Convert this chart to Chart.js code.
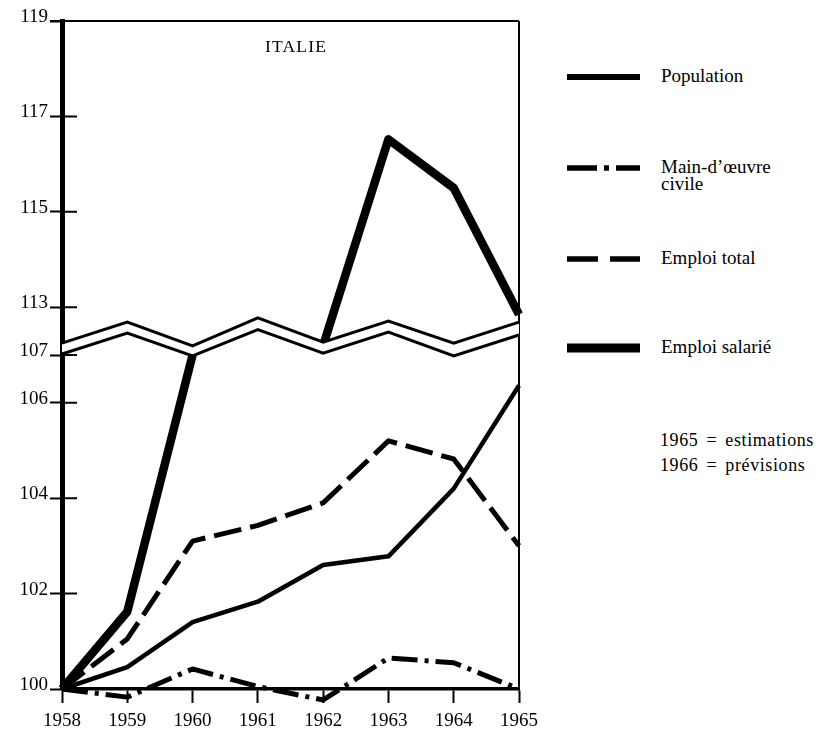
<!DOCTYPE html>
<html>
<head>
<meta charset="utf-8">
<script src="https://cdn.jsdelivr.net/npm/chart.js@4/dist/chart.umd.min.js"></script>
<style>
  body { margin: 0; background: #fff; overflow: hidden; }
  #page { position: relative; width: 826px; height: 734px; font-family: "Liberation Serif", "DejaVu Serif", serif; color: #000; }
  #plot { position: absolute; left: 0; top: 0; width: 545px; height: 734px; }
  #title { position: absolute; left: 236px; top: 36px; width: 120px; text-align: center; font-size: 17.5px; line-height: 20px; letter-spacing: 1.2px; }
  .item { position: absolute; left: 0; width: 826px; }
  .item svg { position: absolute; left: 567px; }
  .item span { position: absolute; left: 661px; font-size: 19px; line-height: 17px; white-space: pre; }
  #notes { position: absolute; left: 660px; top: 428px; font-size: 18px; line-height: 25px; letter-spacing: 0.6px; word-spacing: 3px; white-space: pre; }
</style>
</head>
<body>
<div id="page">
  <div id="plot"><canvas id="chart"></canvas></div>
  <div id="title">ITALIE</div>
  <div id="legend"></div>
  <div id="notes">1965 = estimations
1966 = prévisions</div>
</div>
<script>
// indices, 1958 = 100
const years = ["1958", "1959", "1960", "1961", "1962", "1963", "1964", "1965"];
const population = [100, 100.46, 101.4, 101.83, 102.6, 102.78, 104.2, 106.36];
const mainOeuvreCivile = [100, 99.83, 100.42, 100.05, 99.77, 100.65, 100.55, 100.0];
const emploiTotal = [100, 101.05, 103.1, 103.43, 103.9, 105.2, 104.82, 103.0];
const emploiSalarie = [100, 101.62, 107.0, null, 112.2, 116.52, 115.5, 112.85];
const seriesNames = ["Population", "Main-d’œuvre\ncivile", "Emploi total", "Emploi salarié"];
const yTicks = [100, 102, 104, 106, 107, 113, 115, 117, 119];
// zigzag of the axis break (the gap 107 -> 113)
const breakUpper = [107.25, 107.69, 107.19, 107.78, 107.27, 107.71, 107.25, 107.69];
const breakLower = [107.02, 107.46, 106.98, 107.53, 107.04, 107.48, 106.98, 107.42];

// the axis skips 108..112, so values above the break are shifted down by 5
const GAP = 5;
const toAxis = v => (v === null ? null : v > 110 ? v - GAP : v);
const fromAxis = v => (v > 107.5 ? v + GAP : v);

const lineStyles = [
  { width: 4.5, dash: [], legendWidth: 6, legendDash: [] },
  { width: 5, dash: [26, 7, 4, 7], legendWidth: 5.5, legendDash: [30, 7, 5, 7] },
  { width: 5, dash: [28, 9], legendWidth: 5.5, legendDash: [31, 12] },
  { width: 8.5, dash: [], legendWidth: 9, legendDash: [] },
];
const series = [population, mainOeuvreCivile, emploiTotal, emploiSalarie];

const dataSets = series.map((values, i) => ({
  label: seriesNames[i].replace("\n", " "),
  data: values.map(toAxis),
  borderColor: "#000",
  borderWidth: lineStyles[i].width,
  borderDash: lineStyles[i].dash,
  borderCapStyle: "butt",
  borderJoinStyle: "round",
  pointRadius: 0,
  tension: 0,
  spanGaps: false,
  clip: false,
  order: 2,
}));

dataSets.push({
  label: "break-upper",
  data: breakUpper,
  borderColor: "#000",
  borderWidth: 3,
  backgroundColor: "#fff",
  fill: { target: "+1" },
  pointRadius: 0,
  clip: false,
  order: 1,
});
dataSets.push({
  label: "break-lower",
  data: breakLower,
  borderColor: "#000",
  borderWidth: 3,
  pointRadius: 0,
  clip: false,
  order: 0,
});

// frame lines and inward tick stubs, drawn under the datasets so the break covers them
const framePlugin = {
  id: "frame",
  beforeDatasetsDraw(chart) {
    const { ctx, chartArea } = chart;
    const y = chart.scales.y;
    ctx.save();
    ctx.strokeStyle = "#000";
    ctx.lineWidth = 2;
    ctx.beginPath();
    ctx.moveTo(chartArea.left - 12, chartArea.top);
    ctx.lineTo(chartArea.right, chartArea.top);
    ctx.moveTo(chartArea.right, chartArea.top);
    ctx.lineTo(chartArea.right, chartArea.bottom);
    y.ticks.forEach(t => {
      const py = y.getPixelForValue(t.value);
      ctx.moveTo(chartArea.left, py);
      ctx.lineTo(chartArea.left + 15, py);
    });
    ctx.stroke();
    ctx.restore();
  },
};

const tickFont = { family: "'Liberation Serif', 'DejaVu Serif', serif", size: 19 };

new Chart(document.getElementById("chart"), {
  type: "line",
  data: { labels: years, datasets: dataSets },
  options: {
    responsive: true,
    maintainAspectRatio: false,
    animation: false,
    layout: { padding: { top: 21, right: 26, left: 0, bottom: 0 } },
    plugins: {
      legend: { display: false },
      tooltip: { enabled: false },
    },
    scales: {
      x: {
        offset: false,
        afterFit: s => { s.height = 45; },
        grid: { display: true, drawOnChartArea: false, tickLength: 14, tickWidth: 2, tickColor: "#000" },
        border: { display: true, width: 3.5, color: "#000" },
        ticks: { color: "#000", font: tickFont, padding: 7, maxRotation: 0, autoSkip: false },
      },
      y: {
        min: 100,
        max: toAxis(119),
        afterFit: s => { s.width = 62; },
        afterBuildTicks: s => { s.ticks = yTicks.map(v => ({ value: toAxis(v) })); },
        grid: { display: true, drawOnChartArea: false, tickLength: 12, tickWidth: 2, tickColor: "#000" },
        border: { display: true, width: 5, color: "#000" },
        ticks: {
          color: "#000",
          font: tickFont,
          padding: 2,
          labelOffset: -4,
          autoSkip: false,
          callback: v => String(fromAxis(v)),
        },
      },
    },
  },
  plugins: [framePlugin],
});

// legend on the right, built from the series names and line styles
const legendLineY = [77, 168, 259, 348];
const legend = document.getElementById("legend");
seriesNames.forEach((name, i) => {
  const st = lineStyles[i];
  const item = document.createElement("div");
  item.className = "item";
  item.style.top = legendLineY[i] + "px";
  item.innerHTML =
    '<svg width="74" height="12" style="top:-6px"><line x1="0" y1="6" x2="73" y2="6" stroke="#000" stroke-width="' +
    st.legendWidth + '" stroke-dasharray="' + (st.legendDash.join(" ") || "none") + '"/></svg>' +
    '<span style="top:-10px"></span>';
  item.querySelector("span").textContent = name;
  legend.appendChild(item);
});
</script>
</body>
</html>
